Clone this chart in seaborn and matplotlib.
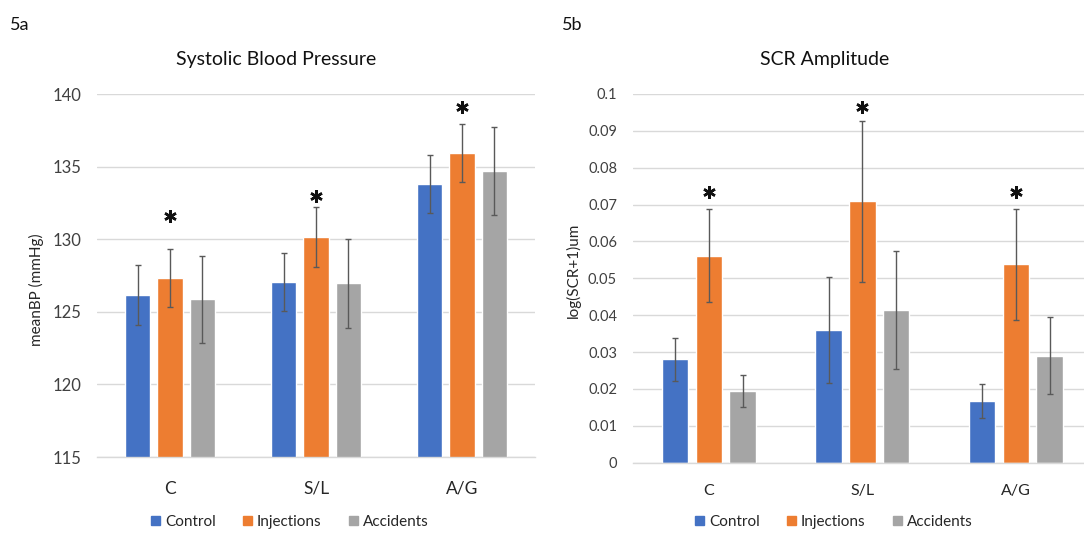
import numpy as np
import pandas as pd
import matplotlib
matplotlib.use("Agg")
import matplotlib.pyplot as plt
import seaborn as sns

# ---------------- data ----------------
categories = ["C", "S/L", "A/G"]
groups = ["Control", "Injections", "Accidents"]

bp_control = [126.15, 127.05, 133.8]
bp_injections = [127.35, 130.15, 135.95]
bp_accidents = [125.85, 126.95, 134.7]
bp_err_control = [2.05, 2.0, 2.0]
bp_err_injections = [2.0, 2.05, 2.0]
bp_err_accidents = [3.0, 3.05, 3.0]
bp_star = [131.6, 133.0, 139.1]

scr_control = [0.0280, 0.0361, 0.0167]
scr_injections = [0.0561, 0.0709, 0.0538]
scr_accidents = [0.0194, 0.0414, 0.0290]
scr_err_control = [0.0059, 0.0144, 0.0046]
scr_err_injections = [0.0126, 0.0219, 0.0151]
scr_err_accidents = [0.0043, 0.0160, 0.0105]
scr_star = [0.0735, 0.0966, 0.0735]

colors = ["#4472C4", "#ED7D31", "#A5A5A5"]

FONT = ["Lato", "DejaVu Sans"]


def make_df(vals, errs):
    rows = []
    for g, v, e in zip(groups, vals, errs):
        for c, vi, ei in zip(categories, v, e):
            rows.append({"cat": c, "group": g, "val": vi, "err": ei})
    return pd.DataFrame(rows)


df_bp = make_df([bp_control, bp_injections, bp_accidents],
                [bp_err_control, bp_err_injections, bp_err_accidents])
df_scr = make_df([scr_control, scr_injections, scr_accidents],
                 [scr_err_control, scr_err_injections, scr_err_accidents])

sns.set_theme(style="white")
plt.rcParams["font.family"] = FONT

W, H = 1084, 536
fig = plt.figure(figsize=(W / 100, H / 100), dpi=100)


def fx(px):
    return px / W


def fy(py):
    return 1 - py / H


ax1 = fig.add_axes([fx(97), fy(457), fx(535) - fx(97), fy(94) - fy(457)])
ax2 = fig.add_axes([fx(633), fy(462.7), fx(1084) - fx(633), fy(94) - fy(462.7)])


def draw(ax, df, ylim, yticks, ytick_fmt, stars, tick_fs, xtick_fs, xlim):
    sns.barplot(data=df, x="cat", y="val", hue="group", hue_order=groups,
                order=categories, palette=colors, width=0.66, gap=0.22,
                errorbar=None, ax=ax, saturation=1, legend=True)
    # error bars at bar centers
    for cont, g in zip(ax.containers, groups):
        sub = df[df.group == g].set_index("cat").loc[categories]
        xs = [b.get_x() + b.get_width() / 2 for b in cont]
        ax.errorbar(xs, sub["val"].values, yerr=sub["err"].values, fmt="none",
                    ecolor="#595959", elinewidth=1.0, capsize=2.5,
                    capthick=1.0, zorder=5)
    inj = ax.containers[1]
    xs = [b.get_x() + b.get_width() / 2 for b in inj]
    ax.plot(xs, stars, linestyle="none", marker=(6, 2, 0), markersize=9,
            markeredgewidth=1.8, color="#111111", zorder=6)
    ax.set_ylim(*ylim)
    ax.set_xlim(*xlim)
    ax.set_yticks(yticks)
    ax.set_yticklabels([ytick_fmt(t) for t in yticks], fontsize=tick_fs,
                       color="#404040")
    ax.tick_params(axis="y", length=0)
    ax.tick_params(axis="x", length=0, labelsize=xtick_fs,
                   labelcolor="#262626")
    ax.yaxis.grid(True, color="#D9D9D9", linewidth=1.0)
    ax.set_axisbelow(True)
    for s in ["top", "right", "left"]:
        ax.spines[s].set_visible(False)
    ax.spines["bottom"].set_color("#D9D9D9")
    ax.spines["bottom"].set_linewidth(1.0)
    ax.set_xlabel("")
    ax.set_ylabel("")
    ax.get_legend().remove()


draw(ax1, df_bp, (115, 140), [115, 120, 125, 130, 135, 140],
     lambda t: f"{t:d}", bp_star, 12, 12.5, (-0.5, 2.5))
draw(ax2, df_scr, (0, 0.1), list(np.round(np.arange(0, 0.1001, 0.01), 2)),
     lambda t: "0" if t == 0 else f"{t:g}", scr_star, 10.5, 11.5,
     (-0.494, 2.444))
ax1.tick_params(axis="y", pad=11)
ax2.tick_params(axis="y", pad=11.5)
ax1.tick_params(axis="x", pad=17)
ax2.tick_params(axis="x", pad=15)

# titles and labels
fig.text(fx(10), fy(25), "5a", fontsize=13, ha="left", va="center",
         color="#111111")
fig.text(fx(562), fy(25), "5b", fontsize=13, ha="left", va="center",
         color="#111111")
fig.text(fx(276), fy(59), "Systolic Blood Pressure", fontsize=14,
         ha="center", va="center", color="#111111")
fig.text(fx(825), fy(59), "SCR Amplitude", fontsize=14, ha="center",
         va="center", color="#111111")
fig.text(fx(36), fy(290), "meanBP (mmHg)", fontsize=11, rotation=90,
         ha="center", va="center", color="#262626")
fig.text(fx(573), fy(270), "log(SCR+1)um", fontsize=11, rotation=90,
         ha="center", va="center", color="#262626")

# legends
handles = [plt.Rectangle((0, 0), 1, 1, color=c) for c in colors]
for cx in (290, 834):
    fig.legend(handles, groups, loc="center", bbox_to_anchor=(fx(cx), fy(522)),
               ncol=3, frameon=False, fontsize=11, handlelength=0.6,
               handleheight=0.6, handletextpad=0.3, columnspacing=1.8,
               labelcolor="#262626")

fig.savefig("out.png", dpi=100)
